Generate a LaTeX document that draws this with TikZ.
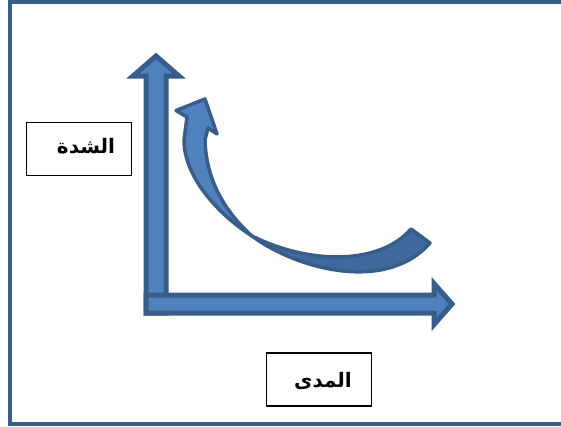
\documentclass[tikz,border=0pt]{standalone}
\usepackage{fontspec}
\newfontfamily\arabicfont[Script=Arabic]{DejaVu Sans}
\TeXXeTstate=1
\definecolor{axisfill}{HTML}{4F81BD}
\definecolor{axisline}{HTML}{385D8A}
\definecolor{backfill}{HTML}{41699E}
\tikzset{blockarrow/.style={fill=axisfill, draw=axisline, line width=5pt, line join=miter},
  ribbon/.style={draw=axisline, line width=3.5pt, line join=round},
  labelbox/.style={draw=black, line width=1.3pt, minimum width=105pt, minimum height=53pt, inner sep=0pt},
  arlabel/.style={font=\arabicfont\bfseries\fontsize{20}{24}\selectfont, inner sep=0pt}}

\begin{document}
\begin{tikzpicture}[x=1pt, y=-1pt]
      \useasboundingbox (0,0) rectangle (561,426);
      \draw [axisline, line width=4.8pt] (561,2) -- (10,2) -- (10,424) -- (561,424);
      \coordinate (origin) at (156,304);
      \draw [blockarrow] (146,313) -- (146,76) -- (133,76) -- (156,56) -- (179,76) -- (166,76) -- (166,313) -- cycle;
      \draw [blockarrow] (146,295) -- (434,295) -- (434,283.5) -- (452,304) -- (434,324.5) -- (434,313) -- (146,313) -- cycle;
      \coordinate (twist) at (252,236);
      \coordinate (tail) at (430,243);
      \draw [ribbon, fill=backfill] (twist) .. controls (295,268) and (385,294) .. (tail)
        -- (411,229) .. controls (380,265) and (310,265) .. (twist) -- cycle;
      \draw [ribbon, fill=axisfill] (twist) .. controls (215,212) and (184,175) .. (184,140)
        -- (187,117) -- (176,110.5) -- (205,99) -- (217,134) -- (208,128) -- (205,140)
        .. controls (206,180) and (225,212) .. (twist) -- cycle;
      \node [labelbox] (intbox) at (79,149) {};
      \node [arlabel] (inttext) at (86,146) {\beginR الشدة\endR};
      \node [labelbox] (rangebox) at (319,379.5) {};
      \node [arlabel] (rangetext) at (323,381) {\beginR المدى\endR};
\end{tikzpicture}
\end{document}
